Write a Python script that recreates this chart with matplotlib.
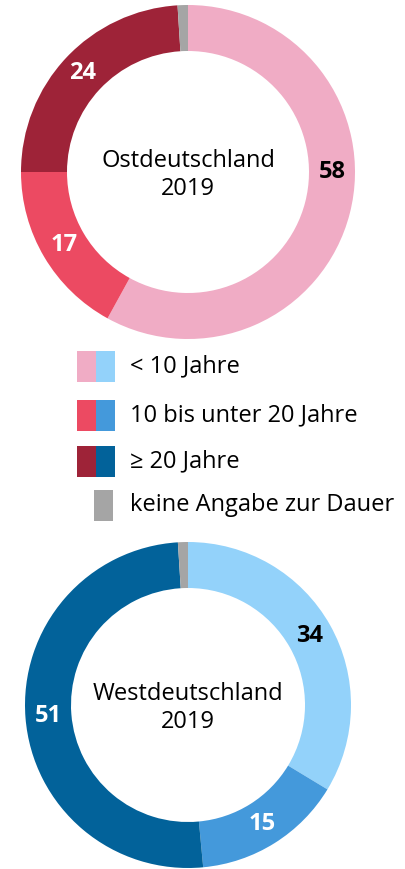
import matplotlib.pyplot as plt
from matplotlib.patches import Rectangle
import numpy as np

plt.rcParams['font.family'] = ['Open Sans', 'DejaVu Sans']

# Anteile in Prozent, im Uhrzeigersinn ab 12 Uhr
kategorien = ['< 10 Jahre', '10 bis unter 20 Jahre', '≥ 20 Jahre', 'keine Angabe zur Dauer']
ost_werte = [58, 17, 24, 1]
west_werte = [34, 15, 51, 1]

ost_farben = ['#F0ACC5', '#EC4A62', '#9E2338', '#A5A5A5']
west_farben = ['#93D2FA', '#4499DB', '#02629A', '#A5A5A5']
label_farben = ['black', 'white', 'white', None]

W, H = 405, 869
fig = plt.figure(figsize=(W / 100, H / 100), dpi=100)
ax = fig.add_axes([0, 0, 1, 1])


def donut(werte, farben, center, radius, breite, titel, label_winkel=None):
    wedges, _ = ax.pie(werte, colors=farben, startangle=90, counterclock=False,
                       center=center, radius=radius,
                       wedgeprops=dict(width=breite, linewidth=0))
    r_mid = radius - breite / 2
    for i, (w, v) in enumerate(zip(wedges, werte)):
        if label_farben[i] is None:
            continue
        ang = (w.theta1 + w.theta2) / 2
        if label_winkel and label_winkel[i] is not None:
            ang = label_winkel[i]
        x = center[0] + r_mid * np.cos(np.radians(ang))
        y = center[1] + r_mid * np.sin(np.radians(ang))
        ax.text(x, y, str(v), ha='center', va='center', fontsize=17,
                fontweight='bold', color=label_farben[i])
    ax.text(center[0], center[1] - 3, titel, ha='center', va='center',
            fontsize=17, linespacing=1.25, color='black')


donut(ost_werte, ost_farben, (188, H - 172), 167, 46, 'Ostdeutschland\n2019',
      label_winkel=[0, None, None, None])
donut(west_werte, west_farben, (188, H - 705), 163, 46, 'Westdeutschland\n2019')

# Legende
zeilen_y = [366, 415, 461, 505]
for i, (name, y) in enumerate(zip(kategorien, zeilen_y)):
    if i < 3:
        ax.add_patch(Rectangle((77, H - y - 15.5), 19, 31, color=ost_farben[i], lw=0))
        ax.add_patch(Rectangle((96, H - y - 15.5), 19, 31, color=west_farben[i], lw=0))
    else:
        ax.add_patch(Rectangle((94, H - y - 15.5), 19, 31, color=ost_farben[i], lw=0))
    ax.text(130, H - y, name, ha='left', va='center', fontsize=17, color='black')

ax.set_xlim(0, W)
ax.set_ylim(0, H)
ax.set_aspect('equal')
ax.axis('off')

fig.savefig('out.png', dpi=100)
